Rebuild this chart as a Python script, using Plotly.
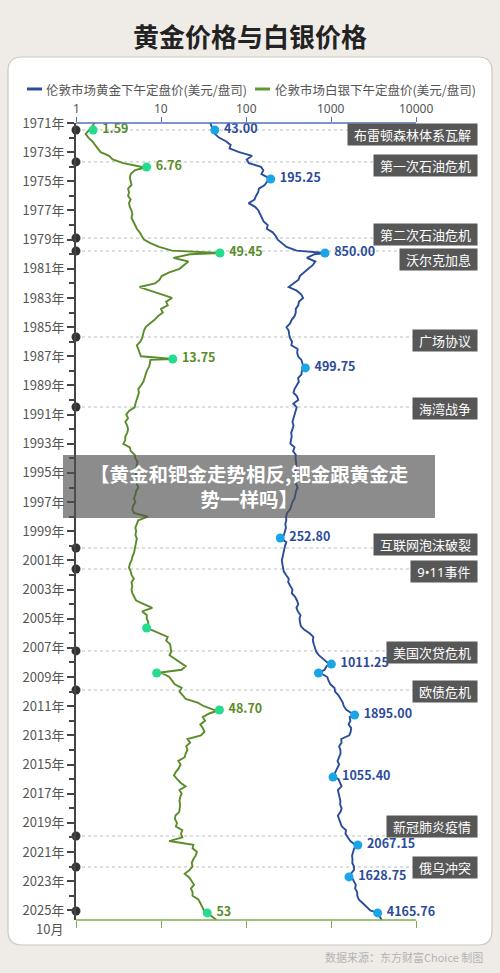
import numpy as np
import plotly.graph_objects as go

# ---------------- data ----------------
# London PM fix, quarterly (1971.00, 1971.25, ...), USD/oz
gold_q = [
    37.9, 39.5, 42.0, 43.2,  48.0, 58.0, 66.0, 64.0,  83.0, 118.0, 102.0, 108.0,
    150.0, 160.0, 152.0, 182.0,  178.0, 166.0, 142.0, 139.0,  131.0, 126.0, 107.0, 128.0,
    140.0, 147.0, 152.0, 161.0,  180.0, 176.0, 206.0, 224.0,  236.0, 270.0, 300.0, 395.0,
    640.0, 520.0, 655.0, 610.0,  540.0, 485.0, 430.0, 415.0,  360.0, 318.0, 395.0, 445.0,
    470.0, 420.0, 412.0, 385.0,  385.0, 372.0, 345.0, 330.0,  300.0, 318.0, 322.0, 330.0,
    348.0, 342.0, 405.0, 400.0,  410.0, 448.0, 462.0, 478.0,  455.0, 448.0, 410.0, 418.0,
    392.0, 372.0, 362.0, 398.0,  412.0, 360.0, 395.0, 382.0,  368.0, 362.0, 352.0, 362.0,
    352.0, 340.0, 345.0, 336.0,  332.0, 372.0, 358.0, 385.0,  382.0, 388.0, 390.0, 384.0,
    378.0, 390.0, 384.0, 388.0,  405.0, 388.0, 383.0, 372.0,  352.0, 342.0, 330.0, 305.0,
    296.0, 298.0, 290.0, 295.0,  287.0, 280.0, 258.0, 298.0,  288.0, 282.0, 276.0, 268.0,
    264.0, 268.0, 275.0, 278.0,  296.0, 318.0, 314.0, 332.0,  352.0, 346.0, 378.0, 398.0,
    412.0, 392.0, 408.0, 438.0,  426.0, 432.0, 442.0, 482.0,  560.0, 620.0, 612.0, 628.0,
    652.0, 668.0, 718.0, 806.0,  905.0, 890.0, 840.0, 760.0,  905.0, 935.0, 985.0, 1100.0,
    1115.0, 1225.0, 1290.0, 1375.0,  1415.0, 1515.0, 1770.0, 1660.0,  1690.0, 1610.0, 1730.0, 1705.0,
    1640.0, 1320.0, 1330.0, 1245.0,  1290.0, 1295.0, 1235.0, 1195.0,  1245.0, 1190.0, 1125.0, 1085.0,
    1225.0, 1290.0, 1330.0, 1205.0,  1225.0, 1260.0, 1290.0, 1280.0,  1335.0, 1295.0, 1205.0, 1245.0,
    1295.0, 1340.0, 1500.0, 1480.0,  1580.0, 1690.0, 1920.0, 1875.0,  1810.0, 1770.0, 1790.0, 1780.0,
    1870.0, 1860.0, 1710.0, 1760.0,  1880.0, 1960.0, 1920.0, 2030.0,  2040.0, 2120.0, 2350.0, 2600.0,
    2900.0,
]
silver_q = [
    1.64, 1.55, 1.42, 1.30,  1.40, 1.55, 1.68, 1.80,  1.95, 2.45, 2.70, 3.60,
    5.80, 4.90, 4.40, 4.30,  4.40, 4.50, 4.10, 4.20,  4.10, 4.40, 4.20, 4.30,
    4.50, 4.60, 4.50, 4.70,  4.90, 5.20, 5.60, 5.90,  6.30, 7.60, 9.50, 13.5,
    22.0, 14.0, 21.0, 18.5,  16.5, 12.5, 10.2, 9.6,  8.5, 5.6, 7.6, 10.5,
    13.5, 11.5, 12.0, 10.0,  10.5, 9.2, 8.4, 7.4,  6.6, 6.3, 6.2, 6.0,
    5.7, 5.2, 5.4, 5.6,  5.8, 7.5, 7.4, 7.2,  6.8, 6.6, 6.4, 6.2,
    5.8, 5.4, 5.5, 5.3,  5.2, 5.0, 4.9, 4.2,  3.9, 4.1, 3.8, 4.0,
    4.1, 4.0, 3.8, 3.8,  3.6, 4.3, 4.4, 4.9,  5.0, 5.3, 5.2, 5.0,
    5.0, 5.3, 5.4, 5.2,  5.4, 5.1, 5.0, 4.8,  5.0, 4.7, 4.6, 4.8,
    7.0, 5.4, 5.2, 5.0,  5.1, 5.0, 5.2, 5.1,  5.0, 4.9, 4.8, 4.6,
    4.5, 4.3, 4.2, 4.4,  4.5, 4.8, 4.5, 4.6,  4.5, 4.6, 4.9, 5.1,
    6.3, 7.9, 6.0, 6.8,  6.8, 7.1, 7.0, 7.6,  9.5, 12.0, 11.5, 12.8,
    13.0, 13.2, 12.6, 14.5,  17.0, 19.5, 17.5, 10.5,  12.5, 13.5, 14.5, 17.5,
    16.5, 18.0, 19.5, 27.0,  32.0, 42.0, 37.0, 31.0,  33.0, 29.0, 31.0, 32.5,
    29.5, 20.5, 22.0, 19.8,  20.5, 19.5, 19.0, 16.0,  17.0, 16.2, 15.0, 14.2,
    15.5, 17.0, 19.5, 16.5,  17.5, 16.8, 16.5, 16.8,  16.6, 16.4, 14.8, 14.6,
    15.4, 15.0, 17.8, 17.2,  17.8, 12.5, 24.0, 23.5,  26.5, 25.5, 24.0, 23.0,
    23.5, 21.5, 19.0, 21.5,  23.0, 24.5, 22.5, 23.5,  23.5, 27.5, 29.0, 30.5,
    32.0,
]
q_start = 1971.0

# highlighted points (decimal year, value as drawn, label)
gold_pt_t = [1971.48, 1974.84, 1979.92, 1987.80, 1999.46, 2008.11, 2008.72, 2011.60,
             2015.86, 2020.52, 2022.71, 2025.18]
gold_pt_v = [43.00, 195.25, 850.00, 499.75, 252.80, 1011.25, 712.0, 1895.00,
             1055.40, 2067.15, 1628.75, 3540.0]
gold_pt_lbl = ["43.00", "195.25", "850.00", "499.75", "252.80", "1011.25", "", "1895.00",
               "1055.40", "2067.15", "1628.75", "4165.76"]
silver_pt_t = [1971.48, 1974.02, 1979.92, 1987.19, 2005.64, 2008.72, 2011.26, 2025.18]
silver_pt_v = [1.59, 6.76, 49.45, 13.75, 6.78, 8.9, 48.70, 35.0]
silver_pt_lbl = ["1.59", "6.76", "49.45", "13.75", "", "", "48.70", "53"]

# last reading at the bottom edge of the chart
end_t = 2025.66
gold_end = 3950.0
silver_end = 45.0

# events
event_names = ["布雷顿森林体系瓦解", "第一次石油危机", "第二次石油危机", "沃尔克加息", "广场协议",
               "海湾战争", "互联网泡沫破裂", "9•11事件", "美国次贷危机", "欧债危机",
               "新冠肺炎疫情", "俄乌冲突"]
event_t = [1971.48, 1973.67, 1978.89, 1979.78, 1985.68, 1990.48, 2000.15, 2001.59,
           2007.21, 2009.89, 2019.90, 2022.03]
last_mark_t = 2025.05

year_ticks = list(range(1971, 2026, 2))
price_ticks = [1, 10, 100, 1000, 10000]

# ---------------- layout helpers ----------------
W, H = 500, 973
L, R, T, B = 76, 20, 123, 53
PW, PH = W - L - R, H - T - B
PX_PER_DECADE = 85
PX_PER_YEAR = 14.58
FONT = "Noto Sans CJK SC, Noto Sans, sans-serif"
LATIN_FIRST = "Noto Sans, Noto Sans CJK SC, sans-serif"

GOLD = "#2b4c9b"
SILVER = "#5b8c2a"
GOLD_DOT = "#1aa6e6"
SILVER_DOT = "#25dc8c"


def px(x):
    return (x - L) / PW


def py(y):
    return (H - B - y) / PH


def merged(vals, pt_t, pt_v, tail_v):
    t = [q_start + i * 0.25 for i in range(len(vals))]
    pts = sorted(list(zip(t, vals)) + list(zip(pt_t, pt_v)) + [(end_t, tail_v)])
    return [p[0] for p in pts], [p[1] for p in pts]


def text_w(s, size=13):
    w = 0
    for ch in s:
        if ord(ch) > 0x2E80:
            w += size
        elif ch in "·•":
            w += size * 0.45
        else:
            w += size * 0.56
    return w


gold_t, gold_v = merged(gold_q, gold_pt_t, gold_pt_v, gold_end)
silver_t, silver_v = merged(silver_q, silver_pt_t, silver_pt_v, silver_end)

fig = go.Figure()

fig.add_trace(go.Scatter(x=silver_v, y=silver_t, mode="lines",
                         line=dict(color=SILVER, width=1.9), hoverinfo="skip"))
fig.add_trace(go.Scatter(x=gold_v, y=gold_t, mode="lines",
                         line=dict(color=GOLD, width=1.9), hoverinfo="skip"))

# thin space keeps the value a few px clear of its dot
fig.add_trace(go.Scatter(
    x=silver_pt_v, y=silver_pt_t, mode="markers+text",
    text=["\u2009" + s for s in silver_pt_lbl], textposition="middle right",
    textfont=dict(color=SILVER, size=12.5, family=FONT, weight="bold"),
    marker=dict(color=SILVER_DOT, size=9), cliponaxis=False, hoverinfo="skip"))
fig.add_trace(go.Scatter(
    x=gold_pt_v, y=gold_pt_t, mode="markers+text",
    text=["\u2009" + s for s in gold_pt_lbl], textposition="middle right",
    textfont=dict(color=GOLD, size=12.5, family=FONT, weight="bold"),
    marker=dict(color=GOLD_DOT, size=9), cliponaxis=False, hoverinfo="skip"))

# event dots on the time axis
fig.add_trace(go.Scatter(
    x=[price_ticks[0]] * (len(event_t) + 1), y=event_t + [last_mark_t], mode="markers",
    marker=dict(color="#333333", size=9), cliponaxis=False, hoverinfo="skip"))

# dummy trace so the bottom axis is drawn
fig.add_trace(go.Scatter(x=[price_ticks[0]], y=[None], xaxis="x2", mode="markers",
                         hoverinfo="skip"))

shapes = []
# white card with rounded corners
x0, x1, y0, y1, r = px(8), px(492), py(57), py(945), 14
rx, ry = r / PW, r / PH
card = (f"M {x0 + rx},{y0} L {x1 - rx},{y0} Q {x1},{y0} {x1},{y0 - ry} "
        f"L {x1},{y1 + ry} Q {x1},{y1} {x1 - rx},{y1} "
        f"L {x0 + rx},{y1} Q {x0},{y1} {x0},{y1 + ry} "
        f"L {x0},{y0 - ry} Q {x0},{y0} {x0 + rx},{y0} Z")
shapes.append(dict(type="path", path=card, xref="paper", yref="paper", layer="below",
                   fillcolor="white", line=dict(color="#cdc8bf", width=1.2)))
for t in event_t:
    shapes.append(dict(type="line", xref="paper", yref="y", x0=0, x1=px(470), y0=t, y1=t,
                       layer="below", line=dict(color="#bdbdbd", width=1, dash="dot")))
shapes.append(dict(type="line", xref="x", yref="paper", x0=price_ticks[0], x1=price_ticks[-1],
                   y0=1, y1=1, line=dict(color="#5273b6", width=1.5)))
shapes.append(dict(type="line", xref="x", yref="paper", x0=price_ticks[0], x1=price_ticks[-1],
                   y0=0, y1=0, line=dict(color="#7dae4d", width=1.5)))
# legend swatches
shapes.append(dict(type="line", xref="paper", yref="paper", x0=px(27), x1=px(42),
                   y0=py(89), y1=py(89), line=dict(color=GOLD, width=3)))
shapes.append(dict(type="line", xref="paper", yref="paper", x0=px(255), x1=px(270),
                   y0=py(89), y1=py(89), line=dict(color="#5d9b30", width=3)))
# page overlay banner
shapes.append(dict(type="rect", xref="paper", yref="paper", x0=px(63), x1=px(435),
                   y0=py(455), y1=py(518), layer="above",
                   fillcolor="rgba(80,80,80,0.66)", line=dict(width=0)))


def note(text, x, y, size, color, xanchor="center", family=FONT, **kw):
    return dict(text=text, xref="paper", yref="paper", x=px(x), y=py(y), xanchor=xanchor,
                yanchor="middle", showarrow=False,
                font=dict(size=size, color=color, family=family), **kw)


annotations = [
    note("<b>黄金价格与白银价格</b>", 250, 35, 26, "#222222"),
    note("伦敦市场黄金下午定盘价(美元/盘司)", 44, 89, 12.5, "#555555", "left"),
    note("伦敦市场白银下午定盘价(美元/盘司)", 273, 89, 12.5, "#555555", "left"),
    note("10月", 65, 928, 13, "#555555", "right"),
    note("<b>【黄金和钯金走势相反,钯金跟黄金走<br>势一样吗】</b>", 249, 486, 19.5, "white"),
    note("数据来源：东方财富Choice 制图", 485, 957, 11, "#b3b3b3", "right"),
]

# price labels above the top axis
for v in price_ticks:
    annotations.append(dict(text=str(v), xref="x", yref="paper", x=np.log10(v), y=py(108),
                            xanchor="center", yanchor="middle", showarrow=False,
                            font=dict(size=12, color="#555555", family=LATIN_FIRST)))

box_shift_px = [4, 4, -3.5, 8.5, 3, 1.5, -4, 2.5, 1.5, 1.5, -9.5, 0.5]
for name, t, s in zip(event_names, event_t, box_shift_px):
    annotations.append(dict(text=name, xref="paper", yref="y", x=px(478),
                            y=t + s / PX_PER_YEAR, xanchor="right", yanchor="middle",
                            showarrow=False, bgcolor="#575757", borderpad=2,
                            width=text_w(name) + 8, height=17,
                            font=dict(size=13, color="white", family=LATIN_FIRST)))

x_range = [0, PW / PX_PER_DECADE]
fig.update_layout(
    width=W, height=H,
    margin=dict(l=L, r=R, t=T, b=B, pad=0),
    paper_bgcolor="#efece7",
    plot_bgcolor="rgba(0,0,0,0)",
    showlegend=False,
    font=dict(family=FONT, color="#555555"),
    shapes=shapes,
    annotations=annotations,
    xaxis=dict(type="log", range=x_range, side="top", tickvals=price_ticks,
               showticklabels=False, ticks="outside", ticklen=5,
               tickcolor="#5273b6", showgrid=False, zeroline=False, showline=False,
               fixedrange=True),
    xaxis2=dict(type="log", range=x_range, overlaying="x", side="bottom", anchor="y",
                tickvals=price_ticks, ticks="outside", ticklen=7, tickcolor="#7dae4d",
                showticklabels=False, showgrid=False, zeroline=False, showline=False),
    yaxis=dict(range=[q_start + PH / PX_PER_YEAR, q_start], tickvals=year_ticks,
               ticktext=[f"{y}年" for y in year_ticks], ticks="outside", ticklen=7,
               tickwidth=1.5, tickcolor="#444444", showline=True, linecolor="#444444",
               linewidth=2, showgrid=False, zeroline=False,
               tickfont=dict(size=13, color="#555555"),
               minor=dict(tickvals=list(range(1972, 2025, 2)), ticks="outside",
                          ticklen=5, tickcolor="#444444", tickwidth=1.5)),
)

fig.write_html("out.html", config={"displayModeBar": False},
               post_script="document.body.style.margin='0';")
